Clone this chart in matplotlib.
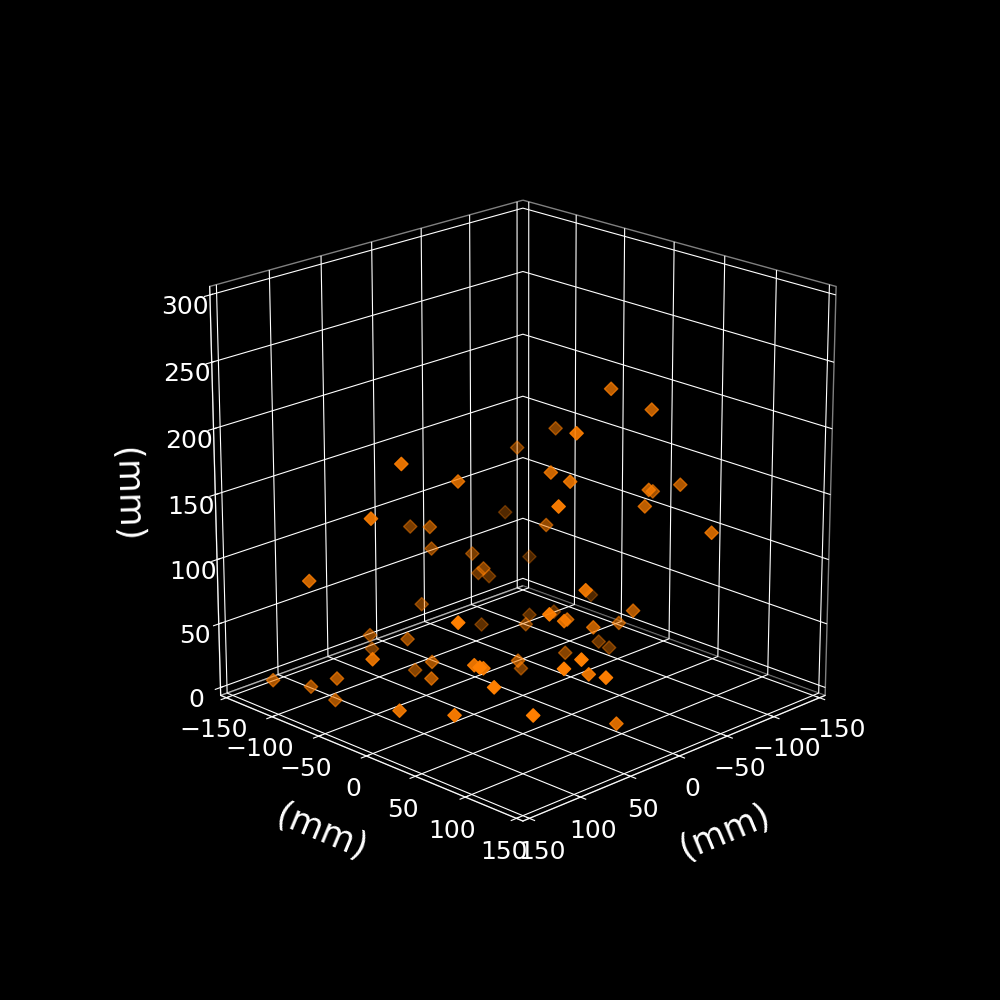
import matplotlib
matplotlib.use('Agg')
import matplotlib.pyplot as plt
plt.style.use('dark_background')

x_mm = [111,58,135,3,23,11,-25,150,-13,-40,-61,11,-49,-66,-75,19,-67,10,16,-51,-83,-83,54,-46,-97,-38,-60,-108,41,-128,-37,150,126,125,116,58,45,150,54,41,60,77,150,140,136,-48,-75,-40,77,-89,43,-2,1,-58,-91,-95,-40,82,92,54,69,16,-25,109,133,105,129,115,34]
y_mm = [-9,-7,-15,-115,-73,-84,-78,-64,-54,-87,-97,-95,40,64,-41,72,-73,38,63,76,50,77,89,77,-116,-14,129,-101,103,-55,75,-105,-91,-64,-76,-101,-113,1,-65,-71,-33,-16,28,73,73,-92,-68,-37,103,-56,84,43,72,41,-11,-4,4,139,132,119,150,11,-27,61,91,66,101,125,127]
z_mm = [199,173,163,96,112,89,77,107,75,55,44,42,228,214,172,219,151,179,180,160,144,156,178,149,81,113,139,46,116,22,71,19,11,25,2,29,11,66,35,5,28,25,35,42,110,10,17,28,108,19,88,65,68,46,7,3,17,86,80,61,72,29,0,67,81,65,68,50,20]
xy_ticks = [-150,-100,-50,0,50,100,150]
z_ticks = [0,50,100,150,200,250,300]

fig = plt.figure(figsize=(10,10), dpi=100)
ax = fig.add_subplot(111, projection='3d')
ax.set_box_aspect((1,1,1), zoom=0.95)
ax.scatter(x_mm, y_mm, z_mm, marker='D', s=46, c='#ff7f00', depthshade=True)
ax.set_xlim(-150,150, view_margin=1/48); ax.set_ylim(-150,150, view_margin=1/48); ax.set_zlim(0,300, view_margin=1/48)
ax.view_init(elev=20, azim=45)
ax.set_xlabel('(mm)', fontsize=25, labelpad=20)
ax.set_ylabel('(mm)', fontsize=25, labelpad=20)
ax.set_zlabel('(mm)', fontsize=25, labelpad=21)
ax.tick_params(labelsize=18)
for a in (ax.xaxis, ax.yaxis, ax.zaxis):
    a.pane.set_facecolor((0,0,0,1))
    a.pane.set_edgecolor((1,1,1,0.5))
    a.set_rotate_label(True)
ax.set_xticks(xy_ticks)
ax.set_yticks(xy_ticks)
ax.set_zticks(z_ticks)
fig.savefig('out.png', facecolor='black')
